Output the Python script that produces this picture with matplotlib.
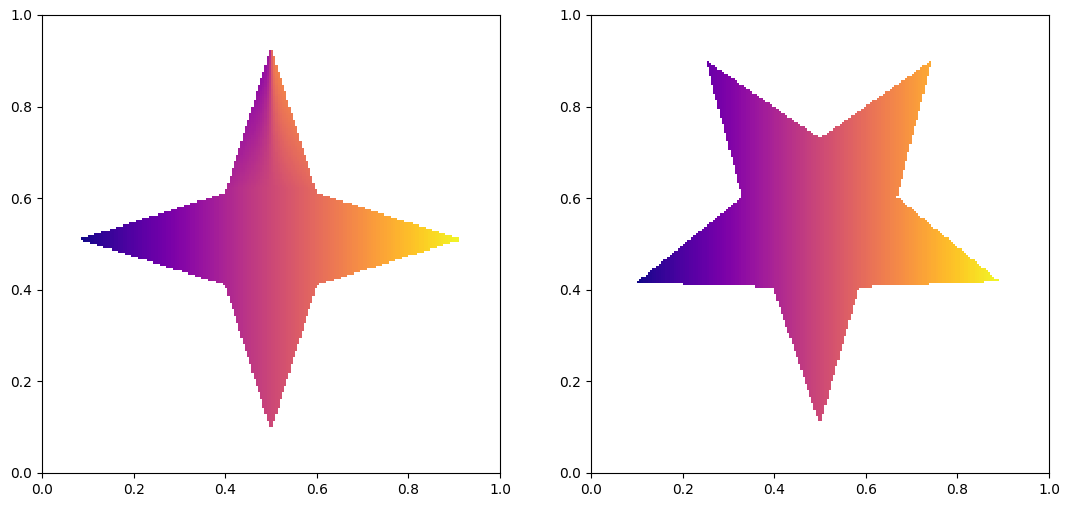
import numpy as np
import matplotlib
matplotlib.use("Agg")
import matplotlib.pyplot as plt
from matplotlib.path import Path

# star outlines (axes units)
four_star_x = [0.917, 0.6, 0.5, 0.4, 0.08, 0.4, 0.5, 0.6]
four_star_y = [0.51, 0.612, 0.93, 0.612, 0.51, 0.41, 0.092, 0.41]

five_star_x = [0.5, 0.585, 0.893, 0.668, 0.745, 0.5, 0.25, 0.33, 0.098, 0.397]
five_star_y = [0.105, 0.406, 0.418, 0.603, 0.902, 0.731, 0.902, 0.603, 0.415, 0.406]

# colour gradient settings
four_x_range = (0.08, 0.917)
four_split_start = 0.62   # height where the top spike starts to split in two colours
four_split_full = 0.87
four_split_amount = 0.19
five_x_range = (0.098, 0.893)

GRID = 210
CMAP = "plasma"


def star_mask(xs, ys, gx, gy):
    path = Path(np.column_stack([xs, ys]))
    inside = path.contains_points(np.column_stack([gx.ravel(), gy.ravel()]))
    return inside.reshape(gx.shape)


def style_axes(ax):
    ax.set_xlim(0, 1)
    ax.set_ylim(0, 1)
    ax.set_xticks(np.arange(0, 1.01, 0.2))
    ax.set_yticks(np.arange(0, 1.01, 0.2))


centers = (np.arange(GRID) + 0.5) / GRID
gx, gy = np.meshgrid(centers, centers)

fig = plt.figure(figsize=(10.7, 5.07), dpi=100)
ax1 = fig.add_axes([42 / 1070, 34 / 507, 458 / 1070, 458 / 507])
ax2 = fig.add_axes([591 / 1070, 34 / 507, 458 / 1070, 458 / 507])

# left: four-point star, horizontal gradient that splits apart in the top spike
vals = (gx - four_x_range[0]) / (four_x_range[1] - four_x_range[0])
dx = gx - 0.5
eps = np.maximum(0.003 + 0.06 * (0.92 - gy), 0.003)
amount = four_split_amount * np.clip(
    (gy - four_split_start) / (four_split_full - four_split_start), 0, 1)
vals = vals + amount * np.sign(dx) * (1 - np.exp(-np.abs(dx) / eps))
vals = np.clip(vals, 0, 1)
mask = star_mask(four_star_x, four_star_y, gx, gy)
ax1.imshow(np.ma.masked_where(~mask, vals), cmap=CMAP, vmin=0, vmax=1,
           origin="lower", extent=(0, 1, 0, 1), interpolation="nearest")
style_axes(ax1)

# right: five-point star
vals = (gx - five_x_range[0]) / (five_x_range[1] - five_x_range[0])
vals = np.clip(vals, 0, 1)
mask = star_mask(five_star_x, five_star_y, gx, gy)
ax2.imshow(np.ma.masked_where(~mask, vals), cmap=CMAP, vmin=0, vmax=1,
           origin="lower", extent=(0, 1, 0, 1), interpolation="nearest")
style_axes(ax2)

fig.savefig("out.png", dpi=100)
